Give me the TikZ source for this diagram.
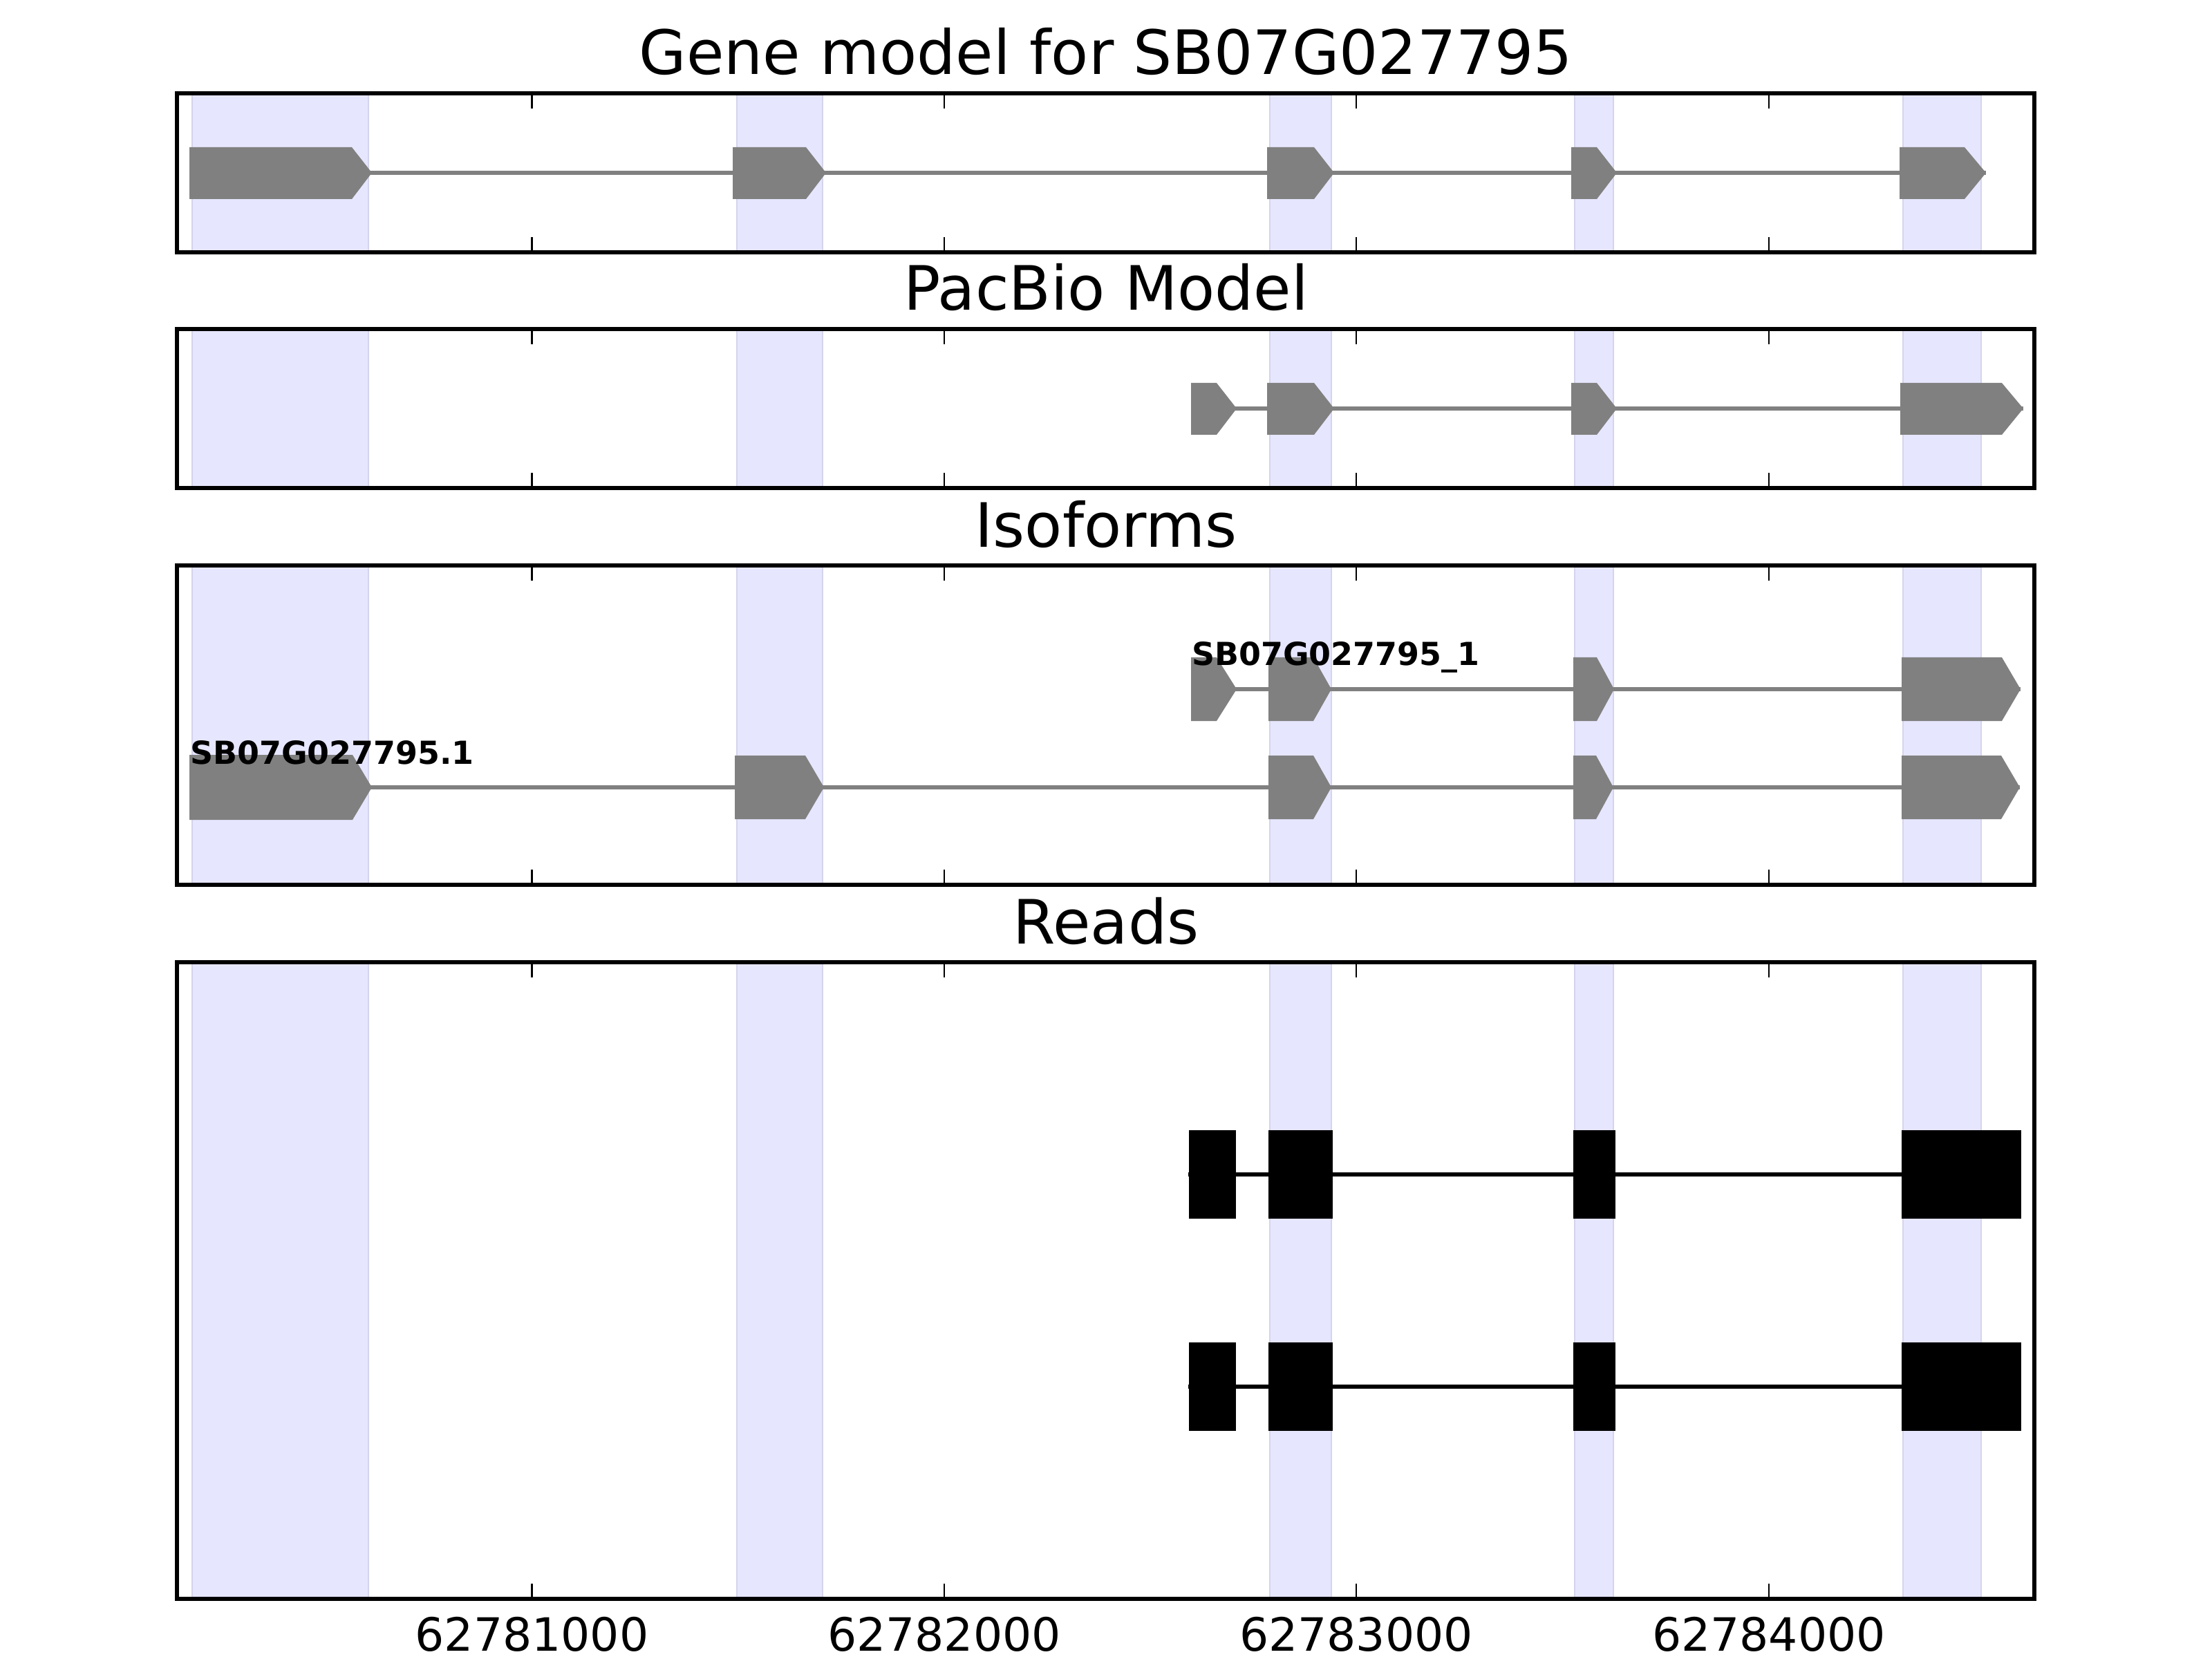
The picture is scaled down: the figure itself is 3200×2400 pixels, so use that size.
\documentclass[tikz,border=0pt]{standalone}
\usepackage{fontspec}
\setmainfont{DejaVu Sans}
\definecolor{bandfill}{RGB}{230,230,255}
\definecolor{bandedge}{RGB}{212,212,236}
\definecolor{exongray}{RGB}{128,128,128}
\tikzset{
  band/.style={fill=bandfill, draw=bandedge, line width=0.5pt},
  exon/.style={fill=exongray},
  intron/.style={draw=exongray, line width=1pt},
  readbox/.style={fill=black},
  readline/.style={draw=black, line width=1pt},
  axframe/.style={draw=black, line width=1pt},
  axtick/.style={draw=black, line width=0.5pt},
  paneltitle/.style={font=\fontsize{16}{19}\selectfont, anchor=base, inner sep=0pt},
  ticklabel/.style={font=\fontsize{12}{14}\selectfont, anchor=base, inner sep=0pt},
  isolabel/.style={font=\fontsize{8.3}{10}\selectfont\bfseries, anchor=base west, inner sep=0pt},
}
\begin{document}
\begin{tikzpicture}[x=0.0025in, y=-0.0025in]
	\useasboundingbox (0,0) rectangle (3200,2400);

	% SHADED EXON BANDS
	\foreach \ya/\yb in {135/365, 476/706, 818/1280, 1392/2313}{
		\foreach \xa/\xb in {278/533, 1066/1190, 1837/1926, 2278/2334, 2753/2866}
			\draw[band] (\xa,\ya) rectangle (\xb,\yb);
	}

	% GENE MODEL
	\draw[intron] (274,250) -- (2873,250);
	\fill[exon] (274,213) -- (509,213) -- (538,250) -- (509,288) -- (274,288) -- cycle;
	\fill[exon] (1060,213) -- (1166,213) -- (1195,250) -- (1166,288) -- (1060,288) -- cycle;
	\fill[exon] (1833,213) -- (1901,213) -- (1930,250) -- (1901,288) -- (1833,288) -- cycle;
	\fill[exon] (2273,213) -- (2310,213) -- (2339,250) -- (2310,288) -- (2273,288) -- cycle;
	\fill[exon] (2748,213) -- (2842,213) -- (2873,250) -- (2842,288) -- (2748,288) -- cycle;
	\node[paneltitle] (title1) at (1600,108) {Gene model for SB07G027795};

	% PACBIO MODEL
	\draw[intron] (1723,591) -- (2927,591);
	\fill[exon] (1723,554) -- (1760,554) -- (1789,591) -- (1760,629) -- (1723,629) -- cycle;
	\fill[exon] (1833,554) -- (1901,554) -- (1930,591) -- (1901,629) -- (1833,629) -- cycle;
	\fill[exon] (2273,554) -- (2310,554) -- (2339,591) -- (2310,629) -- (2273,629) -- cycle;
	\fill[exon] (2749,554) -- (2896,554) -- (2927,591) -- (2896,629) -- (2749,629) -- cycle;
	\node[paneltitle] (title2) at (1600,449) {PacBio Model};

	% ISOFORMS
	\draw[intron] (1723,997) -- (2923,997);
	\fill[exon] (1723,951) -- (1760,951) -- (1789,997) -- (1760,1043) -- (1723,1043) -- cycle;
	\fill[exon] (1835,951) -- (1900,951) -- (1926,997) -- (1900,1043) -- (1835,1043) -- cycle;
	\fill[exon] (2276,951) -- (2310,951) -- (2335,997) -- (2310,1043) -- (2276,1043) -- cycle;
	\fill[exon] (2751,951) -- (2896,951) -- (2923,997) -- (2896,1043) -- (2751,1043) -- cycle;
	\node[isolabel] (iso2) at (1723,963) {SB07G027795\_1};
	\draw[intron] (274,1139) -- (2922,1139);
	\fill[exon] (274,1092) -- (510,1092) -- (538,1139) -- (510,1186) -- (274,1186) -- cycle;
	\fill[exon] (1063,1093) -- (1165,1093) -- (1192,1139) -- (1165,1185) -- (1063,1185) -- cycle;
	\fill[exon] (1835,1093) -- (1900,1093) -- (1926,1139) -- (1900,1185) -- (1835,1185) -- cycle;
	\fill[exon] (2276,1093) -- (2309,1093) -- (2334,1139) -- (2309,1185) -- (2276,1185) -- cycle;
	\fill[exon] (2751,1093) -- (2895,1093) -- (2922,1139) -- (2895,1185) -- (2751,1185) -- cycle;
	\node[isolabel] (iso1) at (274,1105) {SB07G027795.1};
	\node[paneltitle] (title3) at (1600,791) {Isoforms};

	% READS
	\foreach \ym in {1699, 2006}{
		\draw[readline] (1719,\ym) -- (2924,\ym);
		\fill[readbox] (1720,\ym-64) rectangle (1788,\ym+64);
		\fill[readbox] (1835,\ym-64) rectangle (1928,\ym+64);
		\fill[readbox] (2276,\ym-64) rectangle (2337,\ym+64);
		\fill[readbox] (2751,\ym-64) rectangle (2924,\ym+64);
	}
	\node[paneltitle] (title4) at (1600,1365) {Reads};

	% AXES
	\foreach \ya/\yb in {135/365, 476/706, 818/1280, 1392/2313}{
		\foreach \t in {769.5, 1366, 1962, 2559}{
			\draw[axtick] (\t,\ya) -- ++(0,22);
			\draw[axtick] (\t,\yb) -- ++(0,-22);
		}
		\draw[axframe] (256,\ya) rectangle (2943,\yb);
	}
	\node[ticklabel] (tick1) at (769.5,2388) {62781000};
	\node[ticklabel] (tick2) at (1366,2388) {62782000};
	\node[ticklabel] (tick3) at (1962,2388) {62783000};
	\node[ticklabel] (tick4) at (2559,2388) {62784000};
\end{tikzpicture}
\end{document}
